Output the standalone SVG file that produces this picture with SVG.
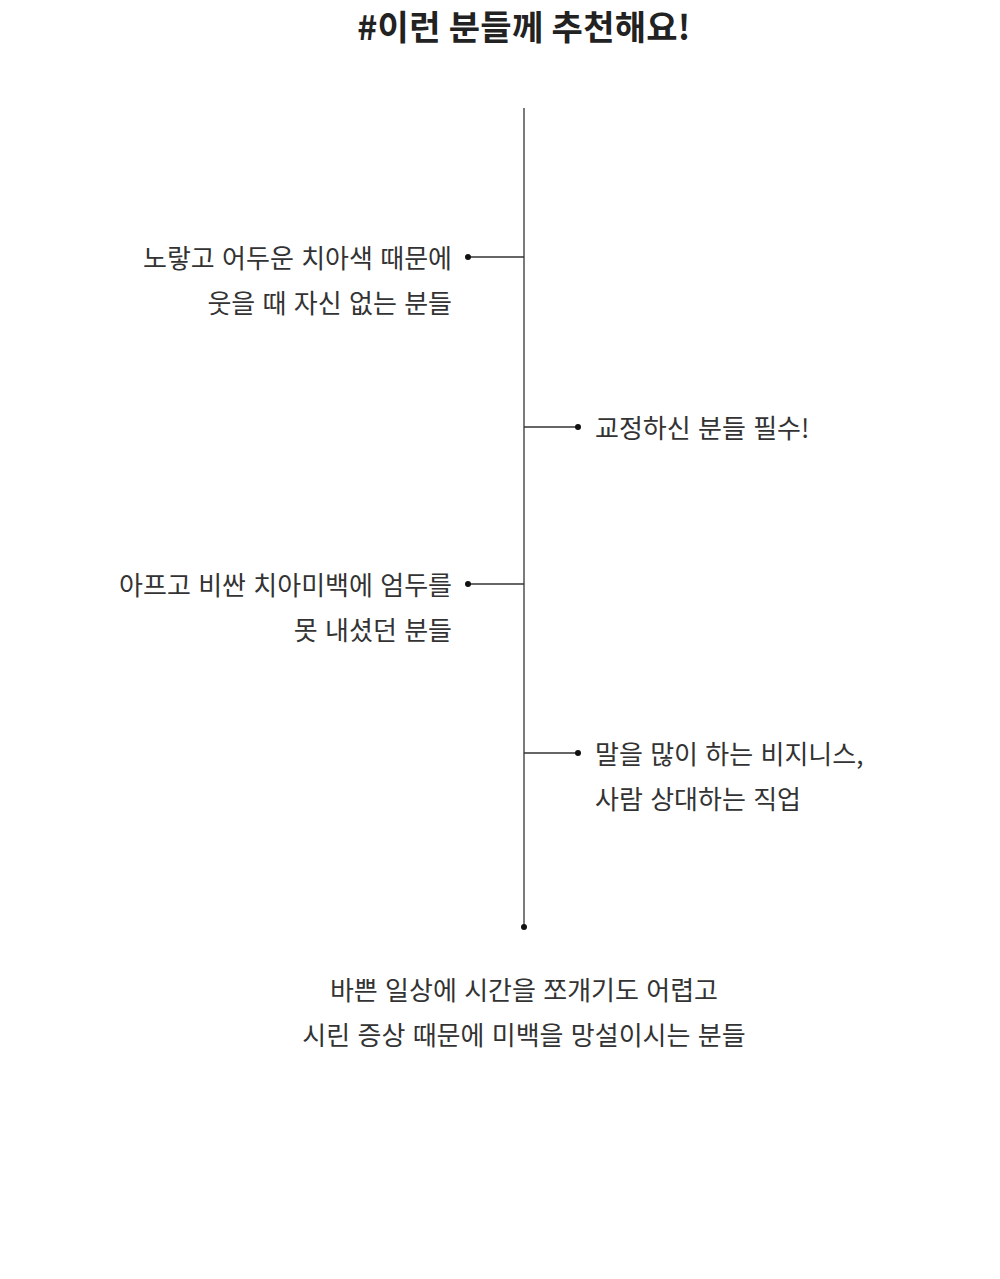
<svg xmlns="http://www.w3.org/2000/svg" width="1000" height="1279" viewBox="0 0 1000 1279">
<style>
.t{font-family:"Noto Sans CJK KR","Noto Sans",sans-serif;font-size:26px;fill:#333;font-weight:400;word-spacing:1.5px}
.title{font-family:"Noto Sans CJK KR","Noto Sans",sans-serif;font-size:34px;fill:#222;font-weight:700;letter-spacing:0.3px}
.ln{stroke:#333;stroke-width:1.3;fill:none}
.dot{fill:#111}
</style>
<rect width="1000" height="1279" fill="#fff"/>
<text id="title" class="title" x="524" y="40" text-anchor="middle">#이런 분들께 추천해요!</text>
<g id="connectors">
<line class="ln" x1="524" y1="108" x2="524" y2="927"/>
<line class="ln" x1="468" y1="257" x2="524" y2="257"/>
<line class="ln" x1="524" y1="427" x2="578" y2="427"/>
<line class="ln" x1="468" y1="584" x2="524" y2="584"/>
<line class="ln" x1="524" y1="753" x2="578" y2="753"/>
<circle class="dot" cx="468" cy="257" r="3"/>
<circle class="dot" cx="578" cy="427" r="3"/>
<circle class="dot" cx="468" cy="584" r="3"/>
<circle class="dot" cx="578" cy="753" r="3"/>
<circle class="dot" cx="524" cy="927" r="3"/>
</g>
<g id="node1"><text class="t" x="452" y="268" text-anchor="end">노랗고 어두운 치아색 때문에</text><text class="t" x="452" y="313" text-anchor="end">웃을 때 자신 없는 분들</text></g>
<g id="node2"><text class="t" x="595" y="438">교정하신 분들 필수!</text></g>
<g id="node3"><text class="t" x="452" y="595" text-anchor="end">아프고 비싼 치아미백에 엄두를</text><text class="t" x="452" y="640" text-anchor="end">못 내셨던 분들</text></g>
<g id="node4"><text class="t" x="595" y="764">말을 많이 하는 비지니스,</text><text class="t" x="595" y="809">사람 상대하는 직업</text></g>
<g id="node5"><text class="t" x="524" y="1000" text-anchor="middle">바쁜 일상에 시간을 쪼개기도 어렵고</text><text class="t" x="524" y="1045" text-anchor="middle">시린 증상 때문에 미백을 망설이시는 분들</text></g>
</svg>
